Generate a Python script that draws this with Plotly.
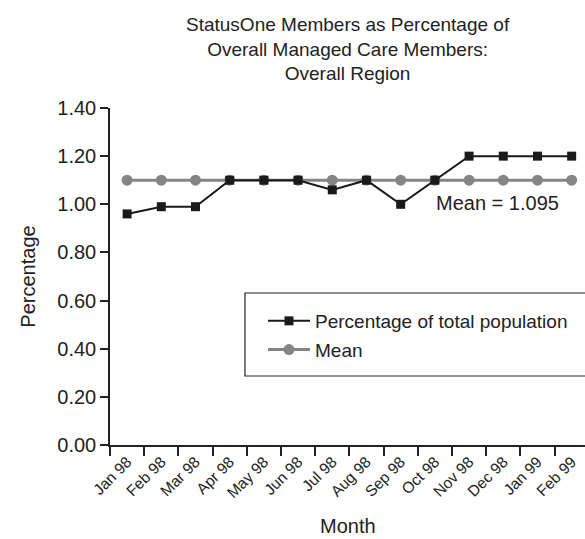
import plotly.graph_objects as go

months = ["Jan 98", "Feb 98", "Mar 98", "Apr 98", "May 98", "Jun 98", "Jul 98",
          "Aug 98", "Sep 98", "Oct 98", "Nov 98", "Dec 98", "Jan 99", "Feb 99"]
pct_total = [0.96, 0.99, 0.99, 1.10, 1.10, 1.10, 1.06,
             1.10, 1.00, 1.10, 1.20, 1.20, 1.20, 1.20]
mean_vals = [1.10] * 14
y_ticks = [0.0, 0.2, 0.4, 0.6, 0.8, 1.0, 1.2, 1.4]

FONT = "Liberation Sans, Arial, Helvetica, sans-serif"
INK = "#222222"

fig = go.Figure()
fig.add_trace(go.Scatter(
    x=months, y=mean_vals, name="Mean", mode="lines+markers",
    line=dict(color="#858585", width=3),
    marker=dict(symbol="circle", size=11, color="#858585"),
    legendgroup="b", legendrank=2,
))
fig.add_trace(go.Scatter(
    x=months, y=pct_total, name="Percentage of total population", mode="lines+markers",
    line=dict(color="#1a1a1a", width=2),
    marker=dict(symbol="square", size=9, color="#1a1a1a"),
    legendgroup="a", legendrank=1,
))

L, R, T, B = 110, 0, 108, 94
W, H = 585, 539
pw = W - L - R
ph = H - T - B

def px_x(p):
    return (p - L) / pw

def px_y(p):
    return (H - B - p) / ph

fig.update_layout(
    width=W, height=H,
    margin=dict(l=L, r=R, t=T, b=B, autoexpand=False),
    paper_bgcolor="white", plot_bgcolor="white",
    font=dict(family=FONT, color=INK, size=19),
    showlegend=True,
    legend=dict(
        x=px_x(263), y=px_y(302), xanchor="left", yanchor="top",
        bgcolor="rgba(0,0,0,0)", borderwidth=0,
        itemwidth=42, tracegroupgap=1, traceorder="grouped",
        font=dict(size=19, family=FONT, color=INK),
    ),
    xaxis=dict(
        type="category", categoryorder="array", categoryarray=months,
        range=[-0.5, 13.39], automargin=False,
        showline=True, linecolor=INK, linewidth=1.5,
        ticks="outside", tickson="boundaries", ticklen=9, tickcolor=INK, tickwidth=1.5,
        tickangle=-45, tickfont=dict(size=15.5, family=FONT, color=INK),
        showgrid=False, zeroline=False,
    ),
    yaxis=dict(
        range=[0, 1.4], tickvals=y_ticks, tickformat=".2f", automargin=False,
        showline=True, linecolor=INK, linewidth=1.5,
        ticks="outside", ticklen=8, tickcolor=INK, tickwidth=1.5,
        tickfont=dict(size=20, family=FONT, color=INK),
        showgrid=False, zeroline=False,
        title=dict(text="Percentage", font=dict(size=20, family=FONT, color=INK), standoff=16),
    ),
    shapes=[dict(
        type="rect", xref="paper", yref="paper",
        x0=px_x(245), x1=px_x(600), y0=px_y(376), y1=px_y(293),
        line=dict(color=INK, width=1.2), fillcolor="rgba(0,0,0,0)", layer="above",
    )],
    annotations=[
        dict(text="StatusOne Members as Percentage of<br>Overall Managed Care Members:<br>Overall Region",
             xref="paper", yref="paper", x=0.5, y=px_y(12),
             xanchor="center", yanchor="top", showarrow=False,
             font=dict(size=19, family=FONT, color=INK)),
        dict(text="Mean = 1.095", xref="paper", yref="paper",
             x=px_x(497), y=px_y(203), xanchor="center", yanchor="middle",
             showarrow=False, font=dict(size=20, family=FONT, color=INK)),
        dict(text="Month", xref="paper", yref="paper",
             x=0.5, y=px_y(526), xanchor="center", yanchor="middle",
             showarrow=False, font=dict(size=20, family=FONT, color=INK)),
    ],
)

fig.write_html("out.html", config={"displayModeBar": False},
               post_script="document.body.style.margin='0';")
